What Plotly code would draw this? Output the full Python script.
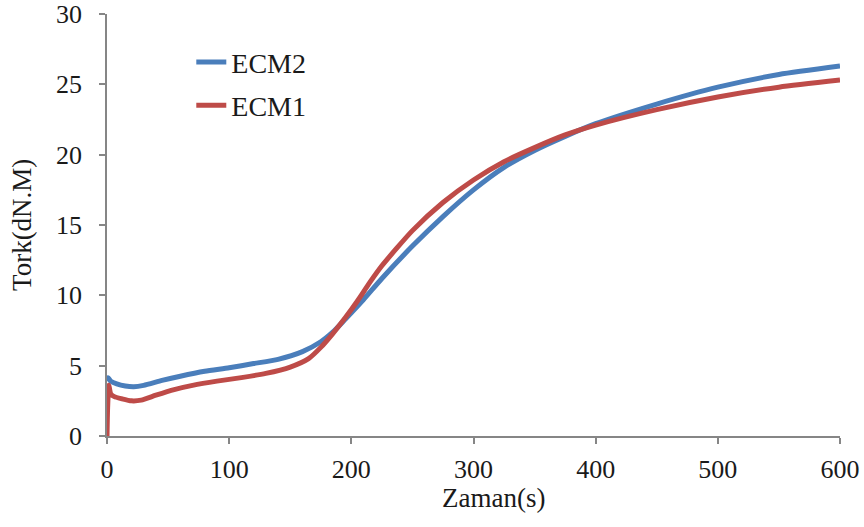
import plotly.graph_objects as go

ecm2_x = [0, 1, 3, 8, 15, 22, 30, 45, 60, 80, 100, 120, 140, 160, 175, 185, 195, 210, 225,
          250, 275, 300, 325, 350, 375, 400, 450, 500, 550, 600]
ecm2_y = [3.9, 4.15, 3.9, 3.7, 3.55, 3.5, 3.6, 3.95, 4.25, 4.6, 4.85, 5.15, 5.45, 6.0, 6.7, 7.4,
          8.3, 9.7, 11.2, 13.5, 15.6, 17.5, 19.1, 20.3, 21.3, 22.2, 23.6, 24.8, 25.7, 26.3]

ecm1_x = [0, 0.5, 1.5, 3, 6, 12, 20, 28, 40, 55, 70, 90, 110, 130, 150, 165, 175, 185, 195,
          205, 215, 225, 250, 275, 300, 325, 350, 375, 400, 450, 500, 550, 600]
ecm1_y = [0, 2.0, 3.6, 3.0, 2.8, 2.65, 2.5, 2.55, 2.9, 3.3, 3.6, 3.9, 4.15, 4.45, 4.9, 5.5, 6.3,
          7.3, 8.4, 9.6, 10.9, 12.1, 14.6, 16.6, 18.2, 19.5, 20.5, 21.4, 22.1, 23.2, 24.1, 24.8, 25.3]

x_ticks = [0, 100, 200, 300, 400, 500, 600]
y_ticks = [0, 5, 10, 15, 20, 25, 30]

FONT = "Liberation Serif"
AXIS_COLOR = "#868686"

fig = go.Figure()
fig.add_trace(go.Scatter(x=ecm2_x, y=ecm2_y, mode="lines", name="ECM2", legendgroup="a",
                         line=dict(color="#4A7EBB", width=5, shape="spline", smoothing=0.6)))
fig.add_trace(go.Scatter(x=ecm1_x, y=ecm1_y, mode="lines", name="ECM1", legendgroup="b",
                         line=dict(color="#BE4B48", width=5, shape="spline", smoothing=0.6)))

fig.update_layout(
    width=864, height=527,
    margin=dict(l=107, r=24, t=14, b=91),
    paper_bgcolor="white", plot_bgcolor="white",
    font=dict(family=FONT, size=26, color="#1a1a1a"),
    showlegend=True,
    legend=dict(x=0.115, y=0.945, xanchor="left", yanchor="top", bgcolor="rgba(0,0,0,0)",
                font=dict(family=FONT, size=28), tracegroupgap=4),
    xaxis=dict(range=[0, 600], tickvals=x_ticks, ticktext=[str(v) for v in x_ticks],
               showgrid=False, zeroline=False, showline=True, linecolor=AXIS_COLOR, linewidth=1.5,
               ticks="outside", ticklen=6, tickcolor=AXIS_COLOR, tickwidth=1.5, automargin=False,
               ticklabeloverflow="allow",
               tickfont=dict(family=FONT, size=26), ticklabelstandoff=3),
    yaxis=dict(range=[0, 30], tickvals=y_ticks, ticktext=[str(v) for v in y_ticks],
               showgrid=False, zeroline=False, showline=True, linecolor=AXIS_COLOR, linewidth=1.5,
               ticks="outside", ticklen=6, tickcolor=AXIS_COLOR, tickwidth=1.5, automargin=False,
               ticklabeloverflow="allow",
               tickfont=dict(family=FONT, size=26), ticklabelstandoff=12),
    annotations=[
        dict(text="Zaman(s)", xref="paper", yref="paper", x=0.527, y=-0.148,
             xanchor="center", yanchor="middle", showarrow=False,
             font=dict(family=FONT, size=27)),
        dict(text="Tork(dN.M)", xref="paper", yref="paper", x=-0.116, y=0.5, textangle=-90,
             xanchor="center", yanchor="middle", showarrow=False,
             font=dict(family=FONT, size=27)),
    ],
)

fig.write_html("out.html")
